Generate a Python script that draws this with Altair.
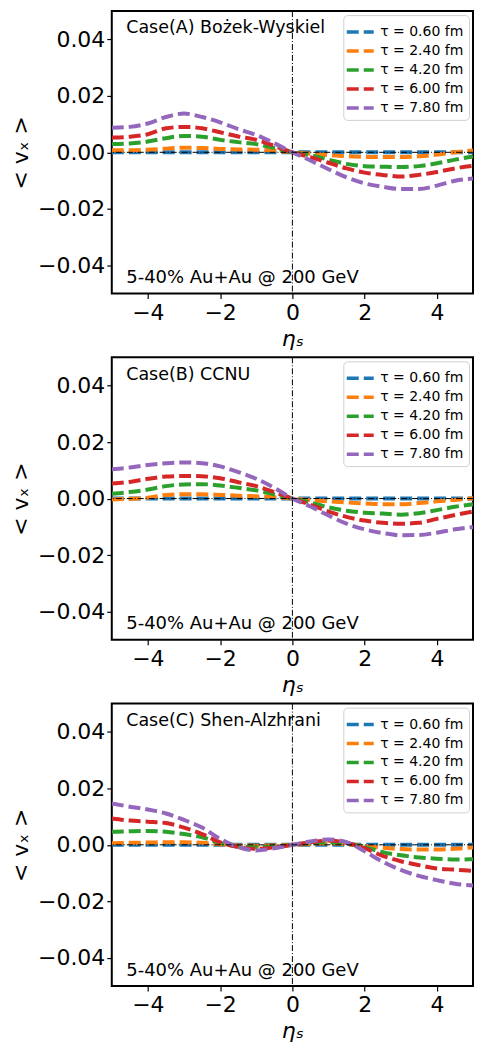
import altair as alt
import pandas as pd

eta = [-5.0, -4.5, -4.0, -3.5, -3.0, -2.5, -2.0, -1.5, -1.0, -0.5, 0.0,
       0.5, 1.0, 1.5, 2.0, 2.5, 3.0, 3.5, 4.0, 4.5, 5.0]
taus = ["τ = 0.60 fm", "τ = 2.40 fm", "τ = 4.20 fm", "τ = 6.00 fm", "τ = 7.80 fm"]
colors = ["#1f77b4", "#ff7f0e", "#2ca02c", "#d62728", "#9467bd"]

# Case A
A_060 = [0.0, 0.0, 0.0, 0.0, 0.0, 0.0, 0.0, 0.0, 0.0, 0.0, 0.0,
         0.0, 0.0, 0.0, 0.0, 0.0, 0.0, 0.0, 0.0, 0.0, 0.0]
A_240 = [0.0007, 0.0007, 0.0009, 0.0013, 0.0016, 0.0015, 0.0012, 0.0010, 0.0009, 0.0006, 0.0,
         -0.0005, -0.0010, -0.0014, -0.0016, -0.0017, -0.0017, -0.0014, -0.0008, 0.0, 0.0006]
A_420 = [0.0029, 0.0031, 0.0038, 0.0050, 0.0058, 0.0055, 0.0044, 0.0036, 0.0029, 0.0015, 0.0,
         -0.0010, -0.0026, -0.0041, -0.0049, -0.0051, -0.0052, -0.0049, -0.0039, -0.0026, -0.0015]
A_600 = [0.0052, 0.0055, 0.0064, 0.0085, 0.0090, 0.0085, 0.0071, 0.0056, 0.0044, 0.0023, 0.0,
         -0.0017, -0.0037, -0.0057, -0.0072, -0.0080, -0.0086, -0.0080, -0.0070, -0.0057, -0.0048]
A_780 = [0.0087, 0.0090, 0.0102, 0.0125, 0.0137, 0.0125, 0.0106, 0.0082, 0.0061, 0.0032, 0.0,
         -0.0029, -0.0060, -0.0089, -0.0110, -0.0122, -0.0130, -0.0130, -0.0118, -0.0101, -0.0093]

# Case B
B_060 = [0.0, 0.0, 0.0, 0.0, 0.0, 0.0, 0.0, 0.0, 0.0, 0.0, 0.0,
         0.0, 0.0, 0.0, 0.0, 0.0, 0.0, 0.0, 0.0, 0.0, 0.0]
B_240 = [-0.0003, -0.0001, 0.0003, 0.0013, 0.0015, 0.0015, 0.0013, 0.0010, 0.0008, 0.0005, 0.0,
         -0.0006, -0.0010, -0.0014, -0.0017, -0.0020, -0.0020, -0.0016, -0.0010, -0.0005, 0.0001]
B_420 = [0.0017, 0.0023, 0.0032, 0.0044, 0.0050, 0.0051, 0.0046, 0.0038, 0.0029, 0.0015, 0.0,
         -0.0014, -0.0031, -0.0043, -0.0050, -0.0053, -0.0057, -0.0052, -0.0041, -0.0029, -0.0020]
B_600 = [0.0053, 0.0059, 0.0070, 0.0078, 0.0080, 0.0079, 0.0072, 0.0058, 0.0044, 0.0023, 0.0,
         -0.0022, -0.0046, -0.0065, -0.0078, -0.0086, -0.0089, -0.0086, -0.0072, -0.0058, -0.0046]
B_780 = [0.0104, 0.0110, 0.0119, 0.0125, 0.0128, 0.0125, 0.0114, 0.0094, 0.0070, 0.0038, 0.0,
         -0.0028, -0.0060, -0.0089, -0.0109, -0.0122, -0.0130, -0.0129, -0.0121, -0.0109, -0.0101]

# Case C
C_060 = [0.0, 0.0, 0.0, 0.0, 0.0, 0.0, 0.0, 0.0, 0.0, 0.0, 0.0,
         0.0, 0.0, 0.0, 0.0, 0.0, 0.0, 0.0, 0.0, 0.0, 0.0]
C_240 = [0.0006, 0.0007, 0.0008, 0.0009, 0.0009, 0.0007, 0.0002, -0.0002, -0.0003, -0.0002, 0.0,
         0.0003, 0.0006, 0.0002, -0.0005, -0.0010, -0.0015, -0.0017, -0.0017, -0.0014, -0.0009]
C_420 = [0.0046, 0.0048, 0.0049, 0.0046, 0.0038, 0.0027, 0.0007, -0.0006, -0.0009, -0.0006, 0.0,
         0.0006, 0.0009, 0.0005, -0.0008, -0.0026, -0.0037, -0.0045, -0.0049, -0.0052, -0.0051]
C_600 = [0.0093, 0.0086, 0.0082, 0.0077, 0.0061, 0.0038, 0.0009, -0.0008, -0.0014, -0.0009, 0.0,
         0.0009, 0.0015, 0.0007, -0.0012, -0.0039, -0.0058, -0.0072, -0.0084, -0.0088, -0.0092]
C_780 = [0.0146, 0.0135, 0.0125, 0.0111, 0.0088, 0.0061, 0.0021, -0.0008, -0.0020, -0.0012, 0.0,
         0.0012, 0.0019, 0.0009, -0.0023, -0.0060, -0.0089, -0.0110, -0.0125, -0.0138, -0.0144]

titles = ["Case(A) Bożek-Wyskiel", "Case(B) CCNU", "Case(C) Shen-Alzhrani"]
subtitle = "5-40% Au+Au @ 200 GeV"
panels_data = [
    [A_060, A_240, A_420, A_600, A_780],
    [B_060, B_240, B_420, B_600, B_780],
    [C_060, C_240, C_420, C_600, C_780],
]

FONT = "DejaVu Sans"
W, H = 362, 283

x_enc = alt.X("eta:Q", scale=alt.Scale(domain=[-5, 5], nice=False, zero=False),
              axis=alt.Axis(title="ηₛ", values=[-4, -2, 0, 2, 4], format="d"))
y_enc = alt.Y("v:Q", scale=alt.Scale(domain=[-0.05, 0.05], nice=False, zero=False),
              axis=alt.Axis(title="< vₓ >", values=[-0.04, -0.02, 0.0, 0.02, 0.04], format=".2f"))


def make_panel(series, title):
    rows = []
    for tau, vals in zip(taus, series):
        for e, v in zip(eta, vals):
            rows.append({"eta": e, "v": v, "tau": tau})
    df = pd.DataFrame(rows)

    lines = alt.Chart(df).mark_line(
        strokeDash=[12, 5], strokeWidth=4, interpolate="monotone", clip=True
    ).encode(
        x=x_enc, y=y_enc,
        color=alt.Color("tau:N", scale=alt.Scale(domain=taus, range=colors),
                        legend=alt.Legend(title=None, orient="top-right")),
    )
    hline = alt.Chart(pd.DataFrame({"v": [0.0]})).mark_rule(
        color="black", strokeWidth=1, strokeDash=[6, 2, 1, 2]
    ).encode(y=y_enc)
    vline = alt.Chart(pd.DataFrame({"eta": [0.0]})).mark_rule(
        color="black", strokeWidth=1, strokeDash=[6, 2, 1, 2]
    ).encode(x=x_enc)
    t1 = alt.Chart(pd.DataFrame({"eta": [-4.6], "v": [0.0421], "t": [title]})).mark_text(
        align="left", baseline="alphabetic", fontSize=17.5, font=FONT, color="black"
    ).encode(x=x_enc, y=y_enc, text="t:N")
    t2 = alt.Chart(pd.DataFrame({"eta": [-4.6], "v": [-0.0463], "t": [subtitle]})).mark_text(
        align="left", baseline="alphabetic", fontSize=18, font=FONT, color="black"
    ).encode(x=x_enc, y=y_enc, text="t:N")
    return alt.layer(lines, t1, t2, hline, vline).properties(width=W, height=H)


charts = [make_panel(s, t) for s, t in zip(panels_data, titles)]

chart = alt.vconcat(*charts, spacing=64, bounds="flush").resolve_scale(
    color="independent"
).resolve_legend(color="independent").configure_view(
    stroke="black", strokeWidth=2
).configure_axis(
    grid=False, domain=False, ticks=True, tickColor="black", tickSize=5, tickWidth=1.2,
    labelFont=FONT, labelFontSize=22, labelColor="black", labelPadding=2,
    titleFont=FONT, titleFontSize=22, titleColor="black", titleFontWeight="normal",
).configure_axisX(
    titlePadding=5, titleFontStyle="italic", labelPadding=4
).configure_axisY(
    titlePadding=5
).configure_legend(
    symbolType="M -1.35 0 L 1.35 0", symbolStrokeWidth=3.5, symbolDash=[12, 5],
    symbolSize=400, symbolFillColor="transparent",
    labelFont=FONT, labelFontSize=14, labelColor="black", labelOffset=8,
    fillColor="white", strokeColor="#d0d0d0", cornerRadius=4, padding=5,
    rowPadding=0, offset=4
).properties(
    padding={"left": 0, "top": 0, "right": 0, "bottom": 0}
)

chart.save("out.html", embed_options={"renderer": "svg", "actions": False})
